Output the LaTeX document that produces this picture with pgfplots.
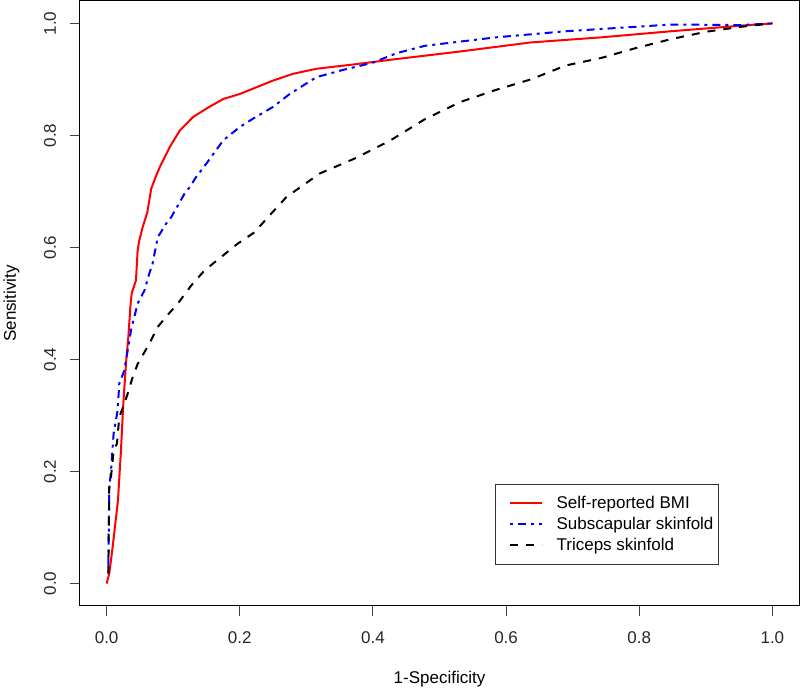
\documentclass[border=0pt]{standalone}
\usepackage{pgfplots}
\pgfplotsset{compat=1.18}
\usepackage{fontspec}
\setmainfont{Liberation Sans}
\newcommand{\rfont}{\fontsize{17}{20}\selectfont}
\begin{document}
\begin{tikzpicture}
\begin{axis}[
  scale only axis, width=719pt, height=605pt,
  xmin=-0.04, xmax=1.04, ymin=-0.04, ymax=1.04,
  xtick={0,0.2,0.4,0.6,0.8,1}, ytick={0,0.2,0.4,0.6,0.8,1},
  xticklabels={0.0,0.2,0.4,0.6,0.8,1.0}, yticklabels={0.0,0.2,0.4,0.6,0.8,1.0},
  tick pos=left, tick align=outside, major tick length=10pt,
  axis line style={line width=1pt, black},
  tick style={line width=1pt, black!75},
  /pgf/number format/assume math mode=true,
  ticklabel style={font=\rfont, text=black!85},
  xticklabel style={anchor=base, yshift=-27pt},
  yticklabel style={rotate=90, anchor=base, yshift=14pt},
  xlabel={1-Specificity}, ylabel={Sensitivity},
  label style={font=\rfont},
  xlabel style={at={(axis description cs:0.5,0)}, anchor=base, yshift=-77pt},
  ylabel style={at={(axis description cs:0,0.5)}, anchor=base, yshift=64pt},
  legend style={at={(axis cs:0.92,0.034)}, anchor=south east, draw=black!80, line width=1pt,
    font=\rfont, inner xsep=13pt, inner ysep=10pt, row sep=3pt,
    /tikz/every odd column/.style={column sep=12pt}},
  legend cell align=left,
  legend image code/.code={\draw[#1] (0pt,0pt) -- (32pt,0pt);},
]
\addplot[red, line width=2pt] coordinates {
(0,0) (0.004,0.018) (0.009,0.065) (0.017,0.148) (0.0215,0.237) (0.025,0.32)
(0.029,0.392) (0.0326,0.44) (0.0356,0.493) (0.0376,0.518) (0.044,0.541)
(0.0466,0.595) (0.049,0.612) (0.054,0.636) (0.061,0.662)
(0.067,0.705) (0.074,0.727) (0.0797,0.743) (0.0947,0.779) (0.11,0.809)
(0.13,0.833) (0.15,0.848) (0.175,0.865) (0.2,0.874) (0.225,0.886) (0.25,0.898)
(0.28,0.91) (0.315,0.919) (0.373,0.927) (0.426,0.935) (0.532,0.950)
(0.637,0.966) (0.742,0.975) (0.848,0.986) (0.953,0.996) (1,1)};
\addlegendentry{\makebox[147pt][l]{Self-reported BMI}}
\addplot[blue, line width=2pt, dash pattern=on 3pt off 5pt on 8pt off 5pt] coordinates {
(0.0025,0.018) (0.004,0.172) (0.0065,0.2) (0.0105,0.268) (0.0165,0.309)
(0.019,0.357) (0.0265,0.38) (0.0316,0.416) (0.0366,0.452) (0.0466,0.5)
(0.0567,0.523) (0.064,0.553) (0.069,0.571) (0.0767,0.618) (0.089,0.642)
(0.097,0.654) (0.117,0.696) (0.125,0.708) (0.134,0.725) (0.15,0.75)
(0.175,0.791) (0.2,0.815) (0.22,0.83) (0.25,0.851) (0.275,0.874)
(0.315,0.904) (0.352,0.916) (0.40,0.93) (0.436,0.947) (0.478,0.96)
(0.584,0.975) (0.69,0.986) (0.795,0.994) (0.848,0.998) (0.953,0.997) (1,1)};
\addlegendentry{\makebox[147pt][l]{Subscapular skinfold}}
\addplot[black, line width=2pt, dash pattern=on 8pt off 8pt] coordinates {
(0.0025,0.018) (0.004,0.178) (0.0065,0.19) (0.0105,0.237) (0.0155,0.25)
(0.019,0.297) (0.0265,0.321) (0.0316,0.339) (0.039,0.368) (0.0466,0.392)
(0.064,0.428) (0.0767,0.458) (0.089,0.476) (0.107,0.5) (0.127,0.532)
(0.147,0.559) (0.172,0.583) (0.197,0.607) (0.222,0.627) (0.24,0.651)
(0.27,0.69) (0.32,0.732) (0.373,0.759) (0.426,0.791) (0.478,0.829)
(0.532,0.86) (0.584,0.881) (0.637,0.9) (0.69,0.925) (0.742,0.938)
(0.795,0.956) (0.848,0.972) (0.90,0.985) (0.953,0.994) (1,1)};
\addlegendentry{\makebox[147pt][l]{Triceps skinfold}}
\end{axis}
\path (current axis.south west) ++(-80pt,-84pt) (current axis.north east) ++(1pt,1pt);
\end{tikzpicture}
\end{document}
